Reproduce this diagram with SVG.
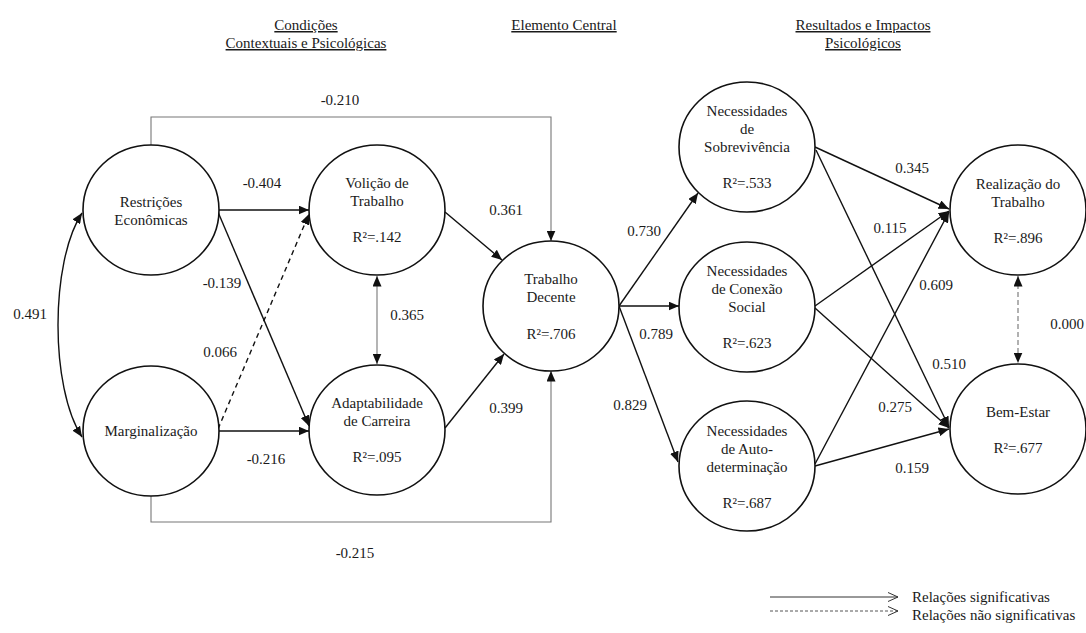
<svg xmlns="http://www.w3.org/2000/svg" width="1086" height="633" viewBox="0 0 1086 633" font-family="'Liberation Serif', 'Times New Roman', serif">
  <style>
    text { font-family: "Liberation Serif", "Times New Roman", serif; font-size: 15px; fill: #1a1a1a; }
    .c { text-anchor: middle; }
    .title { text-anchor: middle; text-decoration: underline; }
    .node ellipse { fill: #fff; stroke: #111; stroke-width: 1.6; }
    .path { fill: none; stroke: #111; stroke-width: 1.4; }
    .gray { fill: none; stroke: #777; stroke-width: 1.1; }
    .dash { fill: none; stroke: #111; stroke-width: 1.4; stroke-dasharray: 5 4; }
    .gdash { fill: none; stroke: #888; stroke-width: 1.3; stroke-dasharray: 5 3; }
  </style>
  <defs>
    <marker id="arr" markerUnits="userSpaceOnUse" markerWidth="11" markerHeight="9" refX="10.5" refY="4.5" orient="auto-start-reverse">
      <path d="M0,0 L10.5,4.5 L0,9 z" fill="#111"/>
    </marker>
    <marker id="open" markerUnits="userSpaceOnUse" markerWidth="12" markerHeight="12" refX="11" refY="6" orient="auto">
      <path d="M1,1.5 L11,6 L1,10.5" fill="none" stroke="#333" stroke-width="1"/>
    </marker>
  </defs>

  <rect width="1086" height="633" fill="#fff"/>

  <!-- column headings -->
  <text class="title" x="306" y="30">Condições</text>
  <text class="title" x="306" y="48">Contextuais e Psicológicas</text>
  <text class="title" x="564" y="30">Elemento Central</text>
  <text class="title" x="863" y="30">Resultados e Impactos</text>
  <text class="title" x="863" y="48">Psicológicos</text>

  <!-- connectors -->
  <g id="connectors">
    <polyline class="gray" points="151,145 151,117 551,117 551,241" marker-end="url(#arr)"/>
    <polyline class="gray" points="151,496 151,522 551,522 551,371" marker-end="url(#arr)"/>
    <path class="path" stroke-width="1" d="M82,213 C50,262 50,388 82,437" marker-start="url(#arr)" marker-end="url(#arr)"/>
    <line class="path" x1="218" y1="210" x2="309" y2="210" marker-end="url(#arr)"/>
    <line class="path" x1="218" y1="212" x2="309" y2="426" marker-end="url(#arr)"/>
    <line class="dash" x1="218" y1="429" x2="309" y2="214" marker-end="url(#arr)"/>
    <line class="path" x1="218" y1="431" x2="309" y2="431" marker-end="url(#arr)"/>
    <line class="gray" x1="377" y1="276" x2="377" y2="364" marker-start="url(#arr)" marker-end="url(#arr)"/>
    <line class="path" x1="445" y1="212" x2="502" y2="260" marker-end="url(#arr)"/>
    <line class="path" x1="445" y1="428" x2="504" y2="354" marker-end="url(#arr)"/>
    <line class="path" x1="619" y1="306" x2="698" y2="193" marker-end="url(#arr)"/>
    <line class="path" x1="619" y1="306" x2="679" y2="306" marker-end="url(#arr)"/>
    <line class="path" x1="619" y1="306" x2="678" y2="462" marker-end="url(#arr)"/>
    <line class="path" x1="815" y1="147" x2="949" y2="209" marker-end="url(#arr)"/>
    <line class="path" x1="816" y1="150" x2="949" y2="427" marker-end="url(#arr)"/>
    <line class="path" x1="815" y1="306" x2="949" y2="211" marker-end="url(#arr)"/>
    <line class="path" x1="815" y1="308" x2="949" y2="428" marker-end="url(#arr)"/>
    <line class="path" x1="815" y1="464" x2="949" y2="212" marker-end="url(#arr)"/>
    <line class="path" x1="815" y1="466" x2="949" y2="429" marker-end="url(#arr)"/>
    <line class="gdash" x1="1018" y1="276" x2="1018" y2="363" marker-start="url(#arr)" marker-end="url(#arr)"/>
  </g>

  <!-- path coefficients -->
  <g id="coefficients">
    <text class="c" x="340" y="105">-0.210</text>
    <text class="c" x="262" y="188">-0.404</text>
    <text class="c" x="222" y="288">-0.139</text>
    <text class="c" x="220" y="357">0.066</text>
    <text class="c" x="266" y="464">-0.216</text>
    <text class="c" x="30" y="319">0.491</text>
    <text class="c" x="407" y="320">0.365</text>
    <text class="c" x="506" y="215">0.361</text>
    <text class="c" x="506" y="413">0.399</text>
    <text class="c" x="355" y="558">-0.215</text>
    <text class="c" x="644" y="236">0.730</text>
    <text class="c" x="656" y="339">0.789</text>
    <text class="c" x="630" y="410">0.829</text>
    <text class="c" x="912" y="173">0.345</text>
    <text class="c" x="890" y="233">0.115</text>
    <text class="c" x="936" y="290">0.609</text>
    <text class="c" x="949" y="369">0.510</text>
    <text class="c" x="895" y="412">0.275</text>
    <text class="c" x="912" y="473">0.159</text>
    <text class="c" x="1067" y="329">0.000</text>
  </g>

  <!-- nodes -->
  <g id="restricoes" class="node">
    <ellipse cx="151" cy="210" rx="68" ry="65"/>
    <text class="c" x="151" y="207">Restrições</text>
    <text class="c" x="151" y="225">Econômicas</text>
  </g>
  <g id="marginalizacao" class="node">
    <ellipse cx="151" cy="431" rx="68" ry="65"/>
    <text class="c" x="151" y="436">Marginalização</text>
  </g>
  <g id="volicao" class="node">
    <ellipse cx="377" cy="210" rx="68" ry="65"/>
    <text class="c" x="377" y="188">Volição de</text>
    <text class="c" x="377" y="206">Trabalho</text>
    <text class="c" x="377" y="242">R²=.142</text>
  </g>
  <g id="adaptabilidade" class="node">
    <ellipse cx="377" cy="430" rx="68" ry="65"/>
    <text class="c" x="377" y="408">Adaptabilidade</text>
    <text class="c" x="377" y="426">de Carreira</text>
    <text class="c" x="377" y="462">R²=.095</text>
  </g>
  <g id="trabalho-decente" class="node">
    <ellipse cx="551" cy="306" rx="68" ry="65"/>
    <text class="c" x="551" y="284">Trabalho</text>
    <text class="c" x="551" y="302">Decente</text>
    <text class="c" x="551" y="339">R²=.706</text>
  </g>
  <g id="sobrevivencia" class="node">
    <ellipse cx="747" cy="147" rx="68" ry="65"/>
    <text class="c" x="747" y="116">Necessidades</text>
    <text class="c" x="747" y="134">de</text>
    <text class="c" x="747" y="152">Sobrevivência</text>
    <text class="c" x="747" y="188">R²=.533</text>
  </g>
  <g id="conexao-social" class="node">
    <ellipse cx="747" cy="307" rx="68" ry="65"/>
    <text class="c" x="747" y="276">Necessidades</text>
    <text class="c" x="747" y="294">de Conexão</text>
    <text class="c" x="747" y="312">Social</text>
    <text class="c" x="747" y="348">R²=.623</text>
  </g>
  <g id="autodeterminacao" class="node">
    <ellipse cx="747" cy="466" rx="68" ry="65"/>
    <text class="c" x="747" y="436">Necessidades</text>
    <text class="c" x="747" y="454">de Auto-</text>
    <text class="c" x="747" y="472">determinação</text>
    <text class="c" x="747" y="508">R²=.687</text>
  </g>
  <g id="realizacao" class="node">
    <ellipse cx="1018" cy="210" rx="68" ry="65"/>
    <text class="c" x="1018" y="189">Realização do</text>
    <text class="c" x="1018" y="207">Trabalho</text>
    <text class="c" x="1018" y="243">R²=.896</text>
  </g>
  <g id="bem-estar" class="node">
    <ellipse cx="1018" cy="429" rx="68" ry="65"/>
    <text class="c" x="1018" y="417">Bem-Estar</text>
    <text class="c" x="1018" y="453">R²=.677</text>
  </g>

  <!-- legend -->
  <g id="legend">
    <line x1="770" y1="597" x2="898" y2="597" stroke="#333" stroke-width="1" marker-end="url(#open)"/>
    <line x1="770" y1="611" x2="898" y2="611" stroke="#555" stroke-width="1" stroke-dasharray="3 2" marker-end="url(#open)"/>
    <text x="912" y="602">Relações significativas</text>
    <text x="912" y="620">Relações não significativas</text>
  </g>
</svg>
